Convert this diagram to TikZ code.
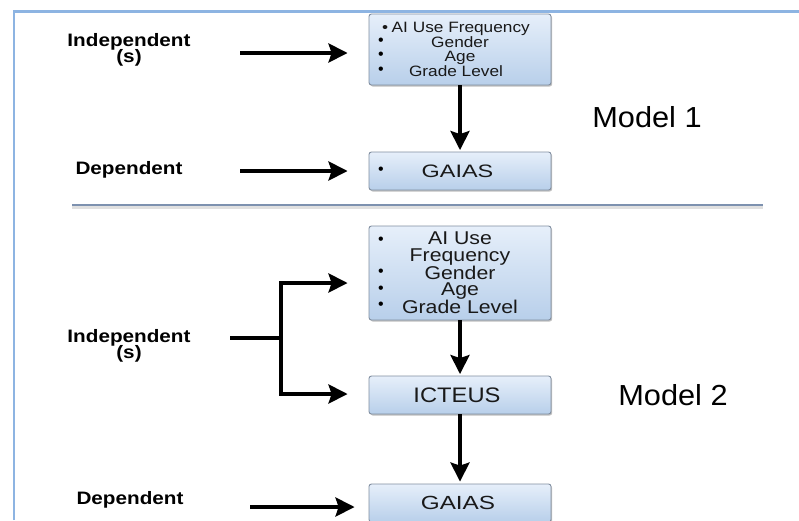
\documentclass[tikz,border=0pt]{standalone}
\usepackage{fontspec}
\setmainfont{Liberation Sans}
\usetikzlibrary{arrows.meta,shadows,calc}
\definecolor{framecol}{RGB}{141,180,226}
\definecolor{boxtop}{RGB}{230,239,250}
\definecolor{boxbot}{RGB}{184,207,234}
\definecolor{boxedge}{RGB}{128,142,160}
\definecolor{sepcol}{RGB}{125,145,175}
% horizontally widened text
\newcommand\sx[2][1.15]{\scalebox{#1}[1]{#2}}
% trailing pad that nudges a centred line to the left
\newcommand\padl{\hspace*{8pt}}

\begin{document}
\begin{tikzpicture}[x=1pt,y=-1pt,
  box/.style={draw=boxedge, line width=0.9pt, rounded corners=2.5pt,
    top color=boxtop, bottom color=boxbot, minimum width=182pt,
    inner sep=0pt, align=center, text=black!90,
    drop shadow={shadow xshift=1.2pt, shadow yshift=-1.5pt, opacity=0.25, fill=black}},
  flow/.style={line width=3.6pt, -{Stealth[length=19pt,width=19pt,inset=3pt]}},
  bar/.style={line width=3.6pt},
  role/.style={font=\fontsize{18}{17}\selectfont\bfseries, align=center, inner sep=0pt},
  bul/.style={font=\fontsize{16}{16}\selectfont, inner sep=0pt},
  model/.style={font=\fontsize{29}{30}\selectfont, inner sep=0pt}]

\useasboundingbox (0,0) rectangle (799,520);
\fill[white] (0,0) rectangle (799,520);

% outer frame (top and left edges)
\draw[framecol, line width=2.4pt] (14,520) -- (14,11.5) -- (800,11.5);

% separator between the two models
\draw[black!12, line width=3pt] (72,207) -- (763,207);
\draw[sepcol, line width=1.6pt] (72,205) -- (763,205);

% ---------------- Model 1 ----------------
\node[box, minimum height=71pt, font=\fontsize{15}{14.6}\selectfont] (b1) at (460,49.5)
  {\sx{•\hspace{3pt}AI Use Frequency}\padl\\ \sx{Gender}\padl\\ \sx{Age}\padl\\ \sx{Grade Level}\padl};
\node[bul] (b1u2) at (381,42) {•};
\node[bul] (b1u3) at (381,56) {•};
\node[bul] (b1u4) at (381,71) {•};

\node[box, minimum height=38pt, font=\fontsize{18}{18}\selectfont] (b2) at (460,171)
  {\sx[1.3]{GAIAS}\hspace*{5pt}};
\node[bul] (b2u1) at (381,171) {•};

\node[role] (ind1) at (129,50) {\sx{Independent}\\[-1pt]\sx{(s)}};
\node[role] (dep1) at (129,170) {\sx{Dependent}};
\node[model] (m1) at (647,117) {\sx[1.06]{Model 1}};

\coordinate (s1) at (240,53);
\coordinate (s2) at (240,171);
\draw[flow, shorten >=21pt] (s1) -- (s1 -| b1.west);
\draw[flow, shorten >=21pt] (s2) -- (s2 -| b2.west);
\draw[flow, shorten >=1.5pt] (b1.south) -- (b2.north);

% ---------------- Model 2 ----------------
\node[box, minimum height=94pt, font=\fontsize{18.5}{16.3}\selectfont] (b3) at (460,273)
  {\sx{AI Use}\\ \sx{Frequency}\\ \sx{Gender}\\ \sx{Age}\\ \sx{Grade Level}};
\node[bul] (b3u1) at (381,241) {•};
\node[bul] (b3u2) at (381,273) {•};
\node[bul] (b3u3) at (381,290) {•};
\node[bul] (b3u4) at (381,306) {•};

\node[box, minimum height=38pt, font=\fontsize{21}{21}\selectfont] (b4) at (460,395)
  {\sx[1.13]{ICTEUS}\hspace*{6pt}};
\node[box, minimum height=38pt, font=\fontsize{19}{19}\selectfont] (b5) at (460,503)
  {\sx[1.28]{GAIAS}\hspace*{4pt}};

\node[role] (ind2) at (129,346) {\sx{Independent}\\[-1pt]\sx{(s)}};
\node[role] (dep2) at (130,500) {\sx{Dependent}};
\node[model] (m2) at (673,395) {\sx[1.06]{Model 2}};

\coordinate (s3) at (230,338);
\coordinate (j3) at (281,338);
\coordinate (u3) at (281,283);
\coordinate (d3) at (281,394);
\coordinate (s4) at (250,507);
\draw[bar] (s3) -- (j3);
\draw[flow, shorten >=21pt] (j3) -- (u3) -- (u3 -| b3.west);
\draw[flow, shorten >=21pt] (j3) -- (d3) -- (d3 -| b4.west);
\draw[flow, shorten >=14pt] (s4) -- (s4 -| b5.west);
\draw[flow, shorten >=1.5pt] (b3.south) -- (b4.north);
\draw[flow, shorten >=2pt] (b4.south) -- (b5.north);
\end{tikzpicture}
\end{document}
